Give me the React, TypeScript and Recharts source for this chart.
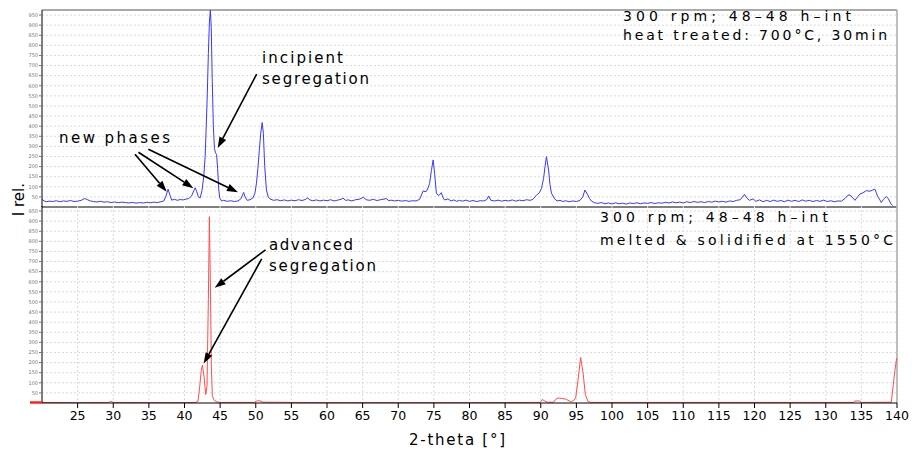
import React from "react";
import { LineChart, Line, XAxis, YAxis, CartesianGrid, ReferenceLine } from "recharts";

// [2-theta, I rel.]
const heatTreated: [number, number][] = [
  [20.0, 38], [20.3, 30], [20.6, 26], [21.0, 29], [21.5, 27], [22.0, 31], [22.5, 26], [23.0, 30],
  [23.5, 28], [24.0, 32], [24.5, 27], [25.0, 29], [25.5, 33], [26.0, 42], [26.4, 36], [26.8, 30],
  [27.2, 27], [27.7, 25], [28.2, 28], [28.7, 24], [29.2, 26], [29.7, 22], [30.2, 25], [30.7, 21],
  [31.2, 24], [31.7, 22], [32.2, 20], [32.7, 23], [33.2, 19], [33.7, 22], [34.2, 20], [34.7, 23],
  [35.2, 21], [35.7, 24], [36.2, 22], [36.7, 26], [37.1, 30], [37.4, 55], [37.7, 88], [37.95, 60],
  [38.2, 34], [38.6, 38], [39.0, 33], [39.4, 37], [39.8, 35], [40.2, 39], [40.6, 42], [41.0, 55],
  [41.3, 80], [41.5, 95], [41.7, 78], [41.95, 50], [42.2, 45], [42.45, 80], [42.7, 150], [42.9, 250],
  [43.05, 400], [43.2, 560], [43.35, 760], [43.5, 920], [43.63, 975], [43.75, 890], [43.9, 620],
  [44.05, 400], [44.2, 290], [44.35, 268], [44.5, 260], [44.65, 190], [44.8, 90], [44.95, 45],
  [45.2, 30], [45.5, 33], [46.0, 28], [46.5, 31], [47.0, 27], [47.5, 30], [47.9, 40], [48.15, 60],
  [48.3, 72], [48.5, 50], [48.8, 33], [49.2, 36], [49.6, 45], [49.9, 70], [50.1, 118], [50.3, 190],
  [50.5, 280], [50.7, 365], [50.9, 418], [51.07, 365], [51.26, 200], [51.5, 84], [51.75, 50], [52.0, 40],
  [52.5, 33], [53.0, 36], [53.5, 31], [54.0, 35], [54.5, 30], [55.0, 34], [55.5, 31], [56.0, 36],
  [56.5, 32], [57.0, 38], [57.3, 45], [57.6, 35], [58.0, 31], [58.5, 35], [59.0, 30], [59.5, 34],
  [60.0, 31], [60.5, 36], [61.0, 30], [61.5, 34], [62.0, 38], [62.25, 44], [62.6, 33], [63.0, 35],
  [63.5, 30], [64.0, 36], [64.5, 38], [65.1, 48], [65.5, 36], [66.0, 33], [66.5, 38], [67.0, 32],
  [67.5, 36], [68.0, 39], [68.3, 42], [68.7, 31], [69.0, 34], [69.5, 30], [70.0, 33], [70.5, 29],
  [71.0, 32], [71.5, 28], [72.0, 31], [72.5, 30], [73.0, 38], [73.5, 80], [73.75, 76], [73.95, 78],
  [74.2, 95], [74.4, 117], [74.65, 180], [74.9, 233], [75.1, 167], [75.35, 68], [75.6, 58], [75.8, 60],
  [76.05, 71], [76.3, 45], [76.5, 35], [76.99, 40], [77.4, 30], [77.8, 35], [78.2, 28], [78.6, 33],
  [79.0, 29], [79.5, 34], [80.0, 28], [80.5, 32], [81.0, 27], [81.5, 31], [82.0, 30], [82.4, 36],
  [82.7, 54], [83.0, 33], [83.5, 30], [84.0, 34], [84.5, 29], [85.0, 33], [85.5, 30], [86.0, 35],
  [86.5, 29], [87.0, 34], [87.5, 31], [88.0, 36], [88.5, 33], [88.9, 38], [89.4, 59], [89.8, 70],
  [90.1, 92], [90.4, 142], [90.6, 200], [90.8, 249], [91.1, 183], [91.3, 110], [91.5, 68], [91.95, 40],
  [92.3, 30], [92.7, 33], [93.1, 27], [93.5, 31], [94.0, 26], [94.5, 30], [95.0, 27], [95.5, 33],
  [95.9, 50], [96.2, 84], [96.6, 60], [96.85, 42], [97.1, 30], [97.5, 22], [98.0, 18], [98.5, 22],
  [99.0, 16], [99.5, 20], [100.0, 15], [100.5, 21], [101.0, 16], [101.5, 19], [102.0, 14], [102.5, 20],
  [103.0, 17], [103.5, 21], [104.0, 16], [104.5, 20], [105.0, 18], [105.5, 22], [106.0, 17], [106.5, 21],
  [107.0, 19], [107.5, 23], [108.0, 20], [108.5, 25], [109.0, 21], [109.5, 24], [110.0, 20], [110.5, 26],
  [111.0, 22], [111.5, 27], [112.0, 23], [112.5, 26], [113.0, 22], [113.5, 27], [114.0, 24], [114.5, 29],
  [115.0, 25], [115.5, 28], [116.0, 24], [116.5, 30], [117.0, 27], [117.5, 33], [118.0, 36], [118.6, 62],
  [118.9, 45], [119.3, 33], [119.8, 40], [120.2, 28], [120.7, 35], [121.2, 26], [121.7, 33], [122.2, 27],
  [122.7, 34], [123.2, 28], [123.7, 32], [124.2, 26], [124.7, 34], [125.2, 28], [125.7, 33], [126.2, 27],
  [126.7, 35], [127.2, 29], [127.7, 33], [128.2, 27], [128.7, 32], [129.2, 28], [129.7, 34], [130.2, 27],
  [130.7, 31], [131.2, 26], [131.7, 30], [132.2, 29], [132.7, 42], [133.1, 58], [133.4, 60], [133.8, 45],
  [134.1, 33], [134.5, 52], [134.8, 64], [135.2, 70], [135.7, 81], [136.2, 78], [136.6, 84], [136.9, 88],
  [137.1, 70], [137.3, 51], [137.6, 35], [137.8, 22], [138.1, 38], [138.5, 52], [138.8, 40], [139.2, 12],
  [139.4, 8],
];

const meltedSolidified: [number, number][] = [
  [20, 3], [25, 2], [29.4, 3], [29.7, 8], [30.0, 3], [35, 2], [40, 2], [41.6, 3], [41.9, 10],
  [42.14, 83], [42.35, 160], [42.51, 187], [42.74, 132], [42.98, 42], [43.16, 83], [43.35, 512],
  [43.49, 922], [43.63, 595], [43.77, 182], [43.91, 33], [44.2, 12], [44.6, 5], [45, 3], [49.8, 3],
  [50.1, 10], [50.6, 11], [51.0, 4], [60, 2], [70, 2], [80, 2], [89.9, 3], [90.23, 17], [90.56, 10],
  [90.9, 4], [91.8, 4], [92.1, 18], [92.43, 25], [93.1, 22], [93.6, 18], [94.0, 10], [94.3, 7],
  [94.6, 12], [94.9, 25], [95.24, 116], [95.6, 225], [95.94, 149], [96.26, 42], [96.64, 7], [97.0, 3],
  [110, 3], [120, 3], [133.9, 3], [134.1, 10], [134.8, 10], [135.0, 3], [139.2, 4], [139.45, 83],
  [139.7, 160], [139.95, 222],
];

const xTicks = [25, 30, 35, 40, 45, 50, 55, 60, 65, 70, 75, 80, 85, 90, 95, 100, 105, 110, 115, 120, 125, 130, 135, 140];
const yTicks = [50, 100, 150, 200, 250, 300, 350, 400, 450, 500, 550, 600, 650, 700, 750, 800, 850, 900, 950];

// annotation arrows in data coordinates: [from, to]
const topArrows = [
  [[50.13, 658], [44.66, 292]],
  [[33.05, 261], [37.5, 76]],
  [[33.53, 271], [41.25, 93]],
  [[34.93, 286], [47.5, 73]],
];
const bottomArrows = [
  [[51.37, 758], [44.24, 570]],
  [[50.83, 713], [42.69, 195]],
];

const FONT = "'DejaVu Sans', sans-serif";

const Arrow = (props: any) => {
  const { x1, y1, x2, y2 } = props;
  const a = Math.atan2(y2 - y1, x2 - x1);
  const L = 11;
  const W = 3.8;
  const bx = x2 - L * Math.cos(a);
  const by = y2 - L * Math.sin(a);
  const px = -Math.sin(a) * W;
  const py = Math.cos(a) * W;
  return (
    <g>
      <line x1={x1} y1={y1} x2={bx} y2={by} stroke="#000" strokeWidth={1.6} />
      <polygon points={`${x2},${y2} ${bx + px},${by + py} ${bx - px},${by - py}`} fill="#000" />
    </g>
  );
};

const yAxisProps = {
  type: "number" as const,
  domain: [0, 975],
  ticks: yTicks,
  interval: 0 as const,
  width: 42,
  tickSize: 3,
  tickMargin: 1,
  tick: { fontSize: 5, fill: "#777", fontFamily: FONT },
  tickLine: { stroke: "#777" },
  axisLine: { stroke: "#000" },
  allowDataOverflow: true,
};

export default function App() {
  const topData = heatTreated.map(([t, v]) => ({ t, v }));
  const bottomData = meltedSolidified.map(([t, v]) => ({ t, v }));

  return (
    <div style={{ position: "absolute", left: 0, top: 0, width: 915, height: 450, background: "#fff" }}>
      <div style={{ position: "absolute", left: 0, top: 0 }}>
        <LineChart width={915} height={210} data={topData} margin={{ top: 10, right: 18, bottom: 2, left: 0 }}>
          <CartesianGrid stroke="#dadada" strokeDasharray="2 2" horizontalValues={yTicks} verticalValues={xTicks} />
          <XAxis
            type="number"
            dataKey="t"
            domain={[20, 140]}
            ticks={xTicks}
            height={1}
            tick={false}
            tickLine={false}
            axisLine={{ stroke: "#000" }}
            allowDataOverflow
          />
          <YAxis {...yAxisProps} />
          <ReferenceLine y={975} stroke="#aaa" strokeWidth={2} />
          <ReferenceLine x={140} stroke="#aaa" strokeWidth={1.5} />
          <Line type="linear" dataKey="v" stroke="#3838ff" strokeWidth={1} dot={false} isAnimationActive={false} />
          {topArrows.map((seg, i) => (
            <ReferenceLine
              key={i}
              segment={[{ x: seg[0][0], y: seg[0][1] }, { x: seg[1][0], y: seg[1][1] }]}
              ifOverflow="visible"
              shape={Arrow}
            />
          ))}
        </LineChart>
      </div>
      <div style={{ position: "absolute", left: 0, top: 196 }}>
        <LineChart width={915} height={254} data={bottomData} margin={{ top: 10, right: 18, bottom: 0, left: 0 }}>
          <CartesianGrid stroke="#dadada" strokeDasharray="2 2" horizontalValues={yTicks} verticalValues={xTicks} />
          <XAxis
            type="number"
            dataKey="t"
            domain={[20, 140]}
            ticks={xTicks}
            interval={0}
            height={47}
            tickSize={5}
            tickMargin={3}
            tick={{ fontSize: 12.5, fill: "#000", fontFamily: FONT }}
            tickLine={{ stroke: "#000" }}
            axisLine={{ stroke: "#000" }}
            allowDataOverflow
          />
          <YAxis {...yAxisProps} />
          <ReferenceLine x={140} stroke="#aaa" strokeWidth={1.5} />
          <Line type="linear" dataKey="v" stroke="#ff4d4d" strokeWidth={1} dot={false} isAnimationActive={false} />
          {bottomArrows.map((seg, i) => (
            <ReferenceLine
              key={i}
              segment={[{ x: seg[0][0], y: seg[0][1] }, { x: seg[1][0], y: seg[1][1] }]}
              ifOverflow="visible"
              shape={Arrow}
            />
          ))}
        </LineChart>
      </div>
      <svg
        width={915}
        height={450}
        style={{ position: "absolute", left: 0, top: 0, pointerEvents: "none" }}
        fontFamily={FONT}
        fill="#000"
      >
        <line x1={30} y1={402.5} x2={42} y2={402.5} stroke="#ff2020" strokeWidth={2.5} />
        <text x={623} y={21} fontSize={14} textLength={228} lengthAdjust="spacing">300 rpm; 48–48 h–int</text>
        <text x={623} y={40} fontSize={14} textLength={264} lengthAdjust="spacing">heat treated: 700°C, 30min</text>
        <text x={262} y={63} fontSize={15} textLength={81} lengthAdjust="spacing">incipient</text>
        <text x={262} y={84} fontSize={15} textLength={107} lengthAdjust="spacing">segregation</text>
        <text x={59} y={143} fontSize={15} textLength={111} lengthAdjust="spacing">new phases</text>
        <text x={600} y={222} fontSize={14} textLength={228} lengthAdjust="spacing">300 rpm; 48–48 h–int</text>
        <text x={600} y={245} fontSize={14} textLength={293} lengthAdjust="spacing">melted &amp; solidified at 1550°C</text>
        <text x={269} y={250} fontSize={15} textLength={84} lengthAdjust="spacing">advanced</text>
        <text x={269} y={271} fontSize={15} textLength={107} lengthAdjust="spacing">segregation</text>
        <text x={409} y={445} fontSize={15} textLength={96} lengthAdjust="spacing">2-theta [°]</text>
        <text x={24} y={195} fontSize={15} textAnchor="middle" transform="rotate(-90 24 195)">rel.</text>
        <text x={24} y={214} fontSize={15} textAnchor="middle" transform="rotate(-90 24 214)">I</text>
      </svg>
    </div>
  );
}
